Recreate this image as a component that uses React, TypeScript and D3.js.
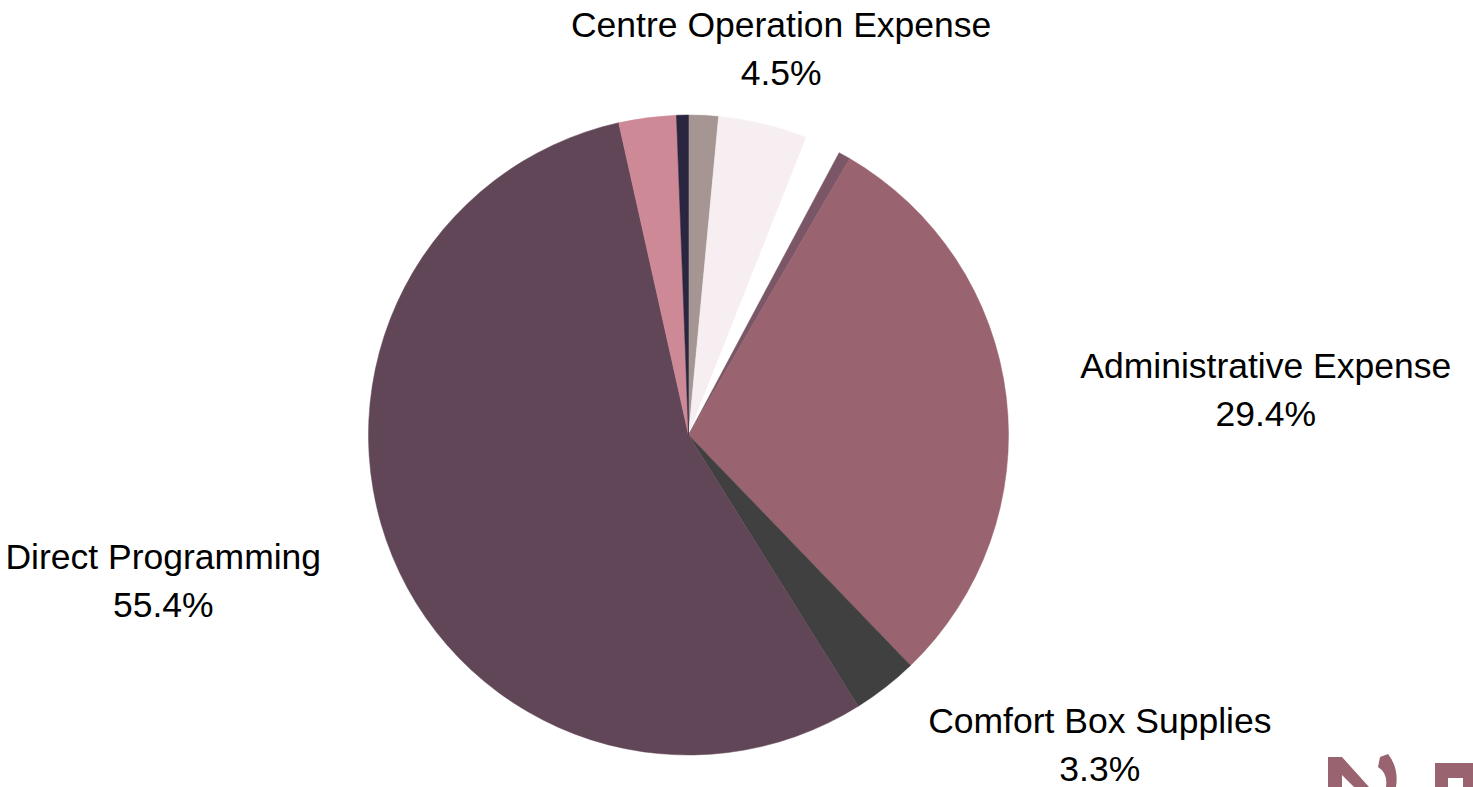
import {useEffect, useRef} from "react";
import * as d3 from "d3";

// slices, clockwise from 12 o'clock
const categories = [
  "Unlabelled A",
  "Centre Operation Expense",
  "Unlabelled B",
  "Unlabelled C",
  "Administrative Expense",
  "Comfort Box Supplies",
  "Direct Programming",
  "Unlabelled D",
  "Unlabelled E",
];
const shares = [1.5, 4.5, 1.8, 0.6, 29.4, 3.3, 55.4, 2.9, 0.6];
const sliceColors = [
  "#a59593",
  "#f6eef0",
  "#ffffff",
  "#7a5666",
  "#99636f",
  "#404040",
  "#614657",
  "#cd8a96",
  "#2b2640",
];
// only these get a label on the chart
const labelled = ["Centre Operation Expense", "Administrative Expense", "Comfort Box Supplies", "Direct Programming"];
// nudge from the label arc centroid to the text block centre
const labelNudge: Record<string, [number, number]> = {
  "Centre Operation Expense": [3, -1],
  "Administrative Expense": [196, 12],
  "Comfort Box Supplies": [175, 19],
  "Direct Programming": [-170, 12],
};

const width = 1473;
const height = 787;

interface Slice {
  name: string;
  value: number;
  color: string;
}

export default function App() {
  const svgRef = useRef<SVGSVGElement>(null);

  useEffect(() => {
    if (!svgRef.current) return;
    const svg = d3.select(svgRef.current);
    svg.selectAll("*").remove();

    const data: Slice[] = categories.map((c, i) => ({name: c, value: shares[i], color: sliceColors[i]}));

    const cx = 688.5;
    const cy = 435;
    const radius = 320;

    const pie = d3
      .pie<Slice>()
      .sort(null)
      .value((d) => d.value);
    const arcs = pie(data);

    const arc = d3.arc<d3.PieArcDatum<Slice>>().innerRadius(0).outerRadius(radius);
    const labelArc = d3
      .arc<d3.PieArcDatum<Slice>>()
      .innerRadius(radius * 1.2)
      .outerRadius(radius * 1.2);

    const g = svg.append("g").attr("transform", `translate(${cx},${cy})`);

    g.selectAll("path.slice")
      .data(arcs)
      .enter()
      .append("path")
      .attr("class", "slice")
      .attr("d", arc)
      .style("fill", (d) => d.data.color)
      .style("stroke", (d) => d.data.color)
      .style("stroke-width", 0.5);

    const labels = g
      .selectAll("g.label")
      .data(arcs.filter((d) => labelled.includes(d.data.name)))
      .enter()
      .append("g")
      .attr("class", "label")
      .attr("transform", (d) => {
        const [x, y] = labelArc.centroid(d);
        const [dx, dy] = labelNudge[d.data.name] ?? [0, 0];
        return `translate(${x + dx},${y + dy})`;
      })
      .style("font-family", "'Liberation Sans', Arial, sans-serif")
      .style("font-size", "35.5px")
      .style("fill", "#000")
      .attr("text-anchor", "middle");

    labels
      .append("text")
      .attr("y", -23.5)
      .text((d) => d.data.name);
    labels
      .append("text")
      .attr("y", 24.5)
      .text((d) => d3.format(".1f")(d.data.value) + "%");

    // logo fragment peeking in at bottom right
    const logo = svg.append("g").style("fill", "#99636f");
    logo
      .append("path")
      .attr("d", "M1328,757 L1342,757 L1369,787 L1354,787 L1342,775 L1342,787 L1328,787 Z");
    logo
      .append("path")
      .attr("d", "M1380,757 L1388,754 Q1399,768 1396,787 L1386,787 Q1388,773 1378,767 Z");
    logo
      .append("path")
      .attr("d", "M1435,763 L1473,763 L1473,787 L1463,787 L1463,778 L1448,778 L1448,787 L1435,787 Z");
  }, []);

  return (
    <svg
      ref={svgRef}
      width={width}
      height={height}
      style={{position: "absolute", left: 0, top: 0, background: "white", display: "block"}}
    ></svg>
  );
}
